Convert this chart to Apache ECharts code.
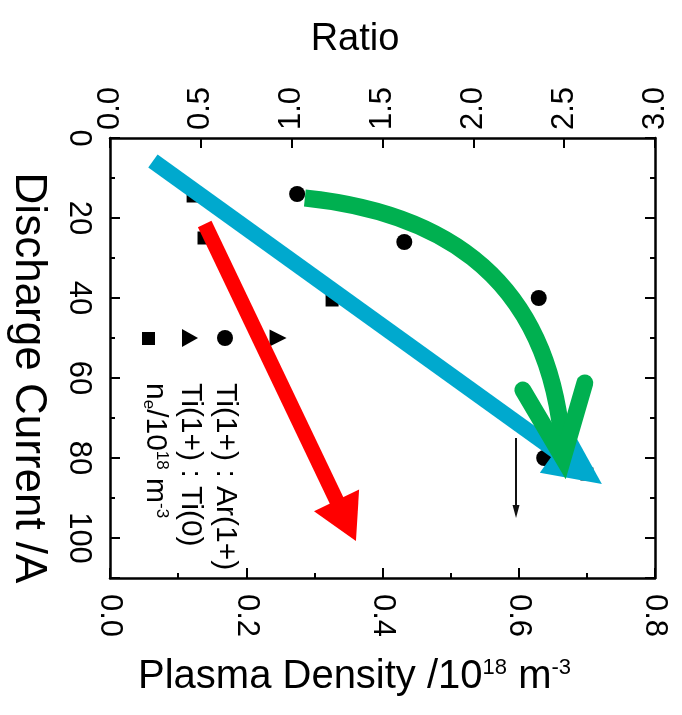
<!DOCTYPE html>
<html><head><meta charset="utf-8">
<script src="https://cdn.jsdelivr.net/npm/echarts@6/dist/echarts.min.js"></script>
<style>html,body{margin:0;padding:0;background:#fff}#c{width:682px;height:715px}</style>
</head><body><div id="c"></div>
<script>
// ---- tick labels ----
const currentTicks = [0, 20, 40, 60, 80, 100];
const densityTicks = ['0.0', '0.2', '0.4', '0.6', '0.8'];
const ratioTicks = ['0.0', '0.5', '1.0', '1.5', '2.0', '2.5', '3.0'];

// ---- series (Discharge Current /A vs value) ----
const tiArCurrent = [14, 26, 40, 80];
const tiArRatio = [1.03, 1.62, 2.36, 2.39];
const tiTiCurrent = [50];
const tiTiRatio = [0.925];
const neCurrent = [14.5, 25, 40.5, 84];
const neDensity = [0.122, 0.138, 0.326, 0.70];

// ---- annotation arrows, in data coordinates [density, current] ----
const blueArrow = [[0.063, 5.75], [0.722, 86.5]];
const redArrow = [[0.139, 21.5], [0.361, 100.75]];
const greenCurve = [[0.286, 15], [0.455, 18], [0.646, 30.5], [0.665, 78.5]];
const greenHead = [[0.606, 63], [0.665, 80], [0.697, 61.25]];
const limitArrow = [[0.596, 75], [0.596, 95]];

const FONT = 'Liberation Sans, Arial, sans-serif';
const chart = echarts.init(document.getElementById('c'), null, {renderer: 'canvas'});

function arrowShape(p0, p1, width, headLen, headWidth, color) {
  const dx = p1[0] - p0[0], dy = p1[1] - p0[1];
  const L = Math.hypot(dx, dy), ux = dx / L, uy = dy / L, nx = -uy, ny = ux;
  const bx = p1[0] - ux * headLen, by = p1[1] - uy * headLen;
  return [
    {type: 'line', shape: {x1: p0[0], y1: p0[1], x2: bx + ux * 2, y2: by + uy * 2},
     style: {stroke: color, lineWidth: width, lineCap: 'butt'}},
    {type: 'polygon', shape: {points: [[p1[0], p1[1]], [bx + nx * headWidth / 2, by + ny * headWidth / 2], [bx - nx * headWidth / 2, by - ny * headWidth / 2]]},
     style: {fill: color}}
  ];
}

const axisLineStyle = {color: '#000', width: 2.5};
const labelBase = {rotate: -90, fontSize: 31, color: '#000', fontFamily: FONT};

const option = {
  animation: false,
  backgroundColor: '#fff',
  grid: {left: 110, right: 27, top: 138, bottom: 137, containLabel: false},
  xAxis: [
    {type: 'value', position: 'bottom', min: 0, max: 0.8, interval: 0.2,
     axisLine: {show: true, onZero: false, lineStyle: axisLineStyle},
     axisTick: {show: true, inside: true, length: 10, lineStyle: {color: '#000', width: 2}},
     splitLine: {show: false},
     axisLabel: Object.assign({margin: 16, formatter: v => densityTicks[Math.round(v / 0.2)] || ''}, labelBase)},
    {type: 'value', position: 'top', min: 0, max: 3, interval: 0.5,
     axisLine: {show: true, onZero: false, lineStyle: axisLineStyle},
     axisTick: {show: true, inside: true, length: 10, lineStyle: {color: '#000', width: 2}},
     splitLine: {show: false},
     axisLabel: Object.assign({margin: 8, formatter: v => ratioTicks[Math.round(v / 0.5)] || ''}, labelBase)},
    {type: 'value', position: 'bottom', min: 0, max: 0.8, interval: 0.1,
     axisLine: {show: false, onZero: false},
     axisTick: {show: true, inside: true, length: 5, lineStyle: {color: '#000', width: 2}},
     splitLine: {show: false}, axisLabel: {show: false}}
  ],
  yAxis: [
    {type: 'value', position: 'left', inverse: true, min: 0, max: 110, interval: 20,
     axisLine: {show: true, onZero: false, lineStyle: axisLineStyle},
     axisTick: {show: true, inside: true, length: 10, lineStyle: {color: '#000', width: 2}},
     splitLine: {show: false},
     axisLabel: Object.assign({margin: 16, formatter: v => currentTicks.indexOf(v) >= 0 ? String(v) : ''}, labelBase)},
    {type: 'value', position: 'left', inverse: true, min: 0, max: 110, interval: 10,
     axisLine: {show: false, onZero: false},
     axisTick: {show: true, inside: true, length: 5, lineStyle: {color: '#000', width: 2}},
     splitLine: {show: false}, axisLabel: {show: false}},
    {type: 'value', position: 'right', inverse: true, min: 0, max: 110, interval: 20,
     axisLine: {show: true, onZero: false, lineStyle: axisLineStyle},
     axisTick: {show: true, inside: true, length: 10, lineStyle: {color: '#000', width: 2}},
     splitLine: {show: false}, axisLabel: {show: false}},
    {type: 'value', position: 'right', inverse: true, min: 0, max: 110, interval: 10,
     axisLine: {show: false, onZero: false},
     axisTick: {show: true, inside: true, length: 5, lineStyle: {color: '#000', width: 2}},
     splitLine: {show: false}, axisLabel: {show: false}}
  ],
  series: [
    {type: 'scatter', name: 'Ti(1+) : Ar(1+)', xAxisIndex: 1, yAxisIndex: 0,
     data: tiArRatio.map((r, i) => [r, tiArCurrent[i]]),
     symbol: 'circle', symbolSize: 16, itemStyle: {color: '#000', opacity: 1}, z: 3},
    {type: 'scatter', name: 'Ti(1+) : Ti(0)', xAxisIndex: 1, yAxisIndex: 0,
     data: tiTiRatio.map((r, i) => [r, tiTiCurrent[i]]),
     symbol: 'triangle', symbolRotate: -90, symbolSize: 17, itemStyle: {color: '#000', opacity: 1}, z: 3},
    {type: 'scatter', name: 'ne', xAxisIndex: 0, yAxisIndex: 0,
     data: neDensity.map((d, i) => [d, neCurrent[i]]),
     symbol: 'rect', symbolSize: 13, itemStyle: {color: '#000', opacity: 1}, z: 3},
    {type: 'custom', xAxisIndex: 0, yAxisIndex: 0, data: [0], z: 10, clip: false, silent: true,
     renderItem: function (params, api) {
       const c = p => api.coord(p);
       const children = [];
       children.push(...arrowShape(c(limitArrow[0]), c(limitArrow[1]), 2, 13, 7, '#111'));
       children.push(...arrowShape(c(blueArrow[0]), c(blueArrow[1]), 16, 57, 54, '#00A9CE'));
       const g = greenCurve.map(c);
       children.push({type: 'bezierCurve',
         shape: {x1: g[0][0], y1: g[0][1], cpx1: g[1][0], cpy1: g[1][1], cpx2: g[2][0], cpy2: g[2][1], x2: g[3][0], y2: g[3][1]},
         style: {stroke: '#00B050', lineWidth: 17, fill: null, lineCap: 'butt'}});
       const h = greenHead.map(c);
       children.push({type: 'polyline', shape: {points: h},
         style: {stroke: '#00B050', lineWidth: 17, lineCap: 'round', lineJoin: 'miter', miterLimit: 10, fill: null}});
       children.push(...arrowShape(c(redArrow[0]), c(redArrow[1]), 15, 45, 50, '#FF0000'));
       return {type: 'group', children: children};
     }}
  ],
  graphic: [
    {type: 'text', x: 355, y: 40, style: {text: 'Ratio', fontSize: 38, fontFamily: FONT, fill: '#000', align: 'center', verticalAlign: 'middle'}},
    {type: 'text', x: 138, y: 677, style: {text: 'Plasma Density /10{sup|18} m{sup|-3}', fontSize: 40, fontFamily: FONT, fill: '#000', align: 'left', verticalAlign: 'middle',
      rich: {sup: {fontSize: 22, fontFamily: FONT, fill: '#000', verticalAlign: 'top', lineHeight: 40}}}},
    {type: 'text', x: 28, y: 378, rotation: -Math.PI / 2, style: {text: 'Discharge Current /A', fontSize: 44, fontFamily: FONT, fill: '#000', align: 'center', verticalAlign: 'middle'}},
    // legend symbols
    {type: 'circle', shape: {cx: 225, cy: 338, r: 8}, style: {fill: '#000'}},
    {type: 'polygon', shape: {points: [[198, 338], [182, 329], [182, 347]]}, style: {fill: '#000'}},
    {type: 'rect', shape: {x: 142, y: 332, width: 13, height: 13}, style: {fill: '#000'}},
    // legend texts
    {type: 'text', x: 225, y: 383, rotation: -Math.PI / 2, style: {text: 'Ti(1+) : Ar(1+)', fontSize: 30, fontFamily: FONT, fill: '#000', align: 'left', verticalAlign: 'middle'}},
    {type: 'text', x: 190, y: 383, rotation: -Math.PI / 2, style: {text: 'Ti(1+) : Ti(0)', fontSize: 30, fontFamily: FONT, fill: '#000', align: 'left', verticalAlign: 'middle'}},
    {type: 'text', x: 155, y: 383, rotation: -Math.PI / 2, style: {text: 'n{sub|e}/10{sup|18} m{sup|-3}', fontSize: 30, fontFamily: FONT, fill: '#000', align: 'left', verticalAlign: 'middle',
      rich: {sup: {fontSize: 17, fontFamily: FONT, fill: '#000', verticalAlign: 'top', lineHeight: 30},
             sub: {fontSize: 17, fontFamily: FONT, fill: '#000', verticalAlign: 'bottom', lineHeight: 30}}}}
  ]
};
chart.setOption(option);
</script>
</body></html>
